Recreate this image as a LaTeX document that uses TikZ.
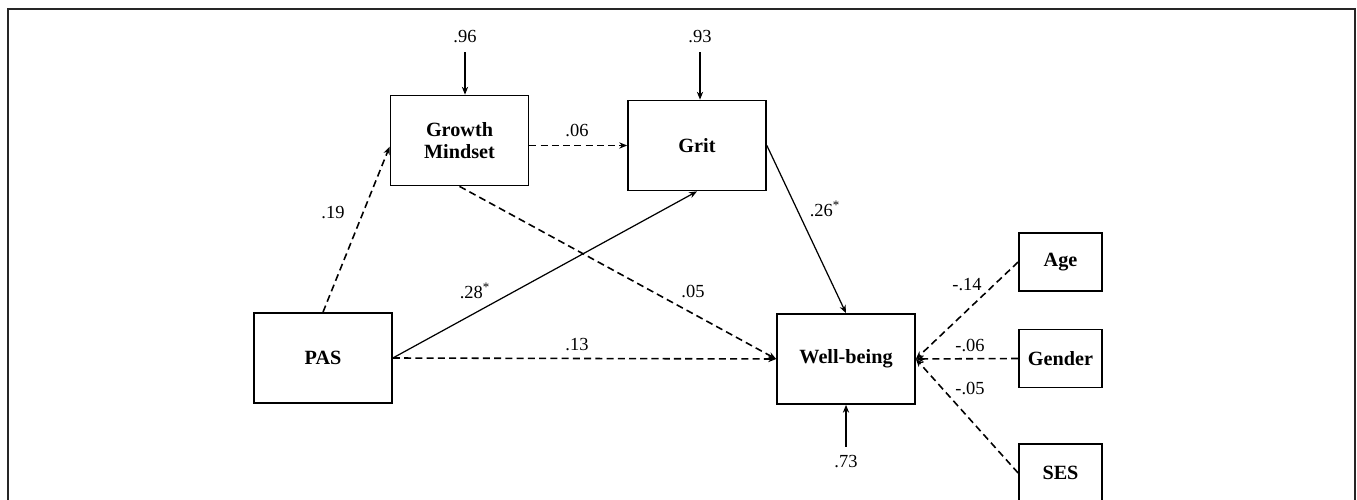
\documentclass[tikz,border=0pt]{standalone}
\usepackage{fontspec}
\setmainfont{Liberation Serif}
\usepackage{tikz}
\usetikzlibrary{arrows.meta, positioning}
\tikzset{>={Stealth[length=4.5pt,width=3.6pt]}}
\tikzset{
  varbox/.style={draw, line width=1pt, minimum width=2.76cm, minimum height=1.8cm,
    inner sep=0pt, align=center, font=\fontsize{11.5}{12.5}\selectfont\bfseries},
  ctrlbox/.style={varbox, minimum width=1.66cm, minimum height=1.16cm},
  coef/.style={font=\fontsize{10.5}{12}\selectfont, inner sep=1pt},
  sigline/.style={->, line width=0.7pt},
  nsline/.style={->, line width=0.9pt, dash pattern=on 4pt off 2.4pt}
}

\begin{document}
\begin{tikzpicture}[x=0.02cm, y=-0.02cm]
        \useasboundingbox (0,0) rectangle (1357,500);
        \clip (0,0) rectangle (1357,500);
        % Outer frame
        \draw[line width=1pt, black!85] (8,9) rectangle (1355,540);

        % Variables
        \node[varbox] (grow) at (459.5,140.5) {Growth\\Mindset};
        \node[varbox] (grit) at (697,145.5) {Grit};
        \node[varbox] (pas) at (323,358) {PAS};
        \node[varbox] (well) at (846,359) {Well-being};

        % Control variables
        \node[ctrlbox] (age) at (1060.5,262) {Age};
        \node[ctrlbox] (gender) at (1060.5,358.5) {Gender};
        \node[ctrlbox] (ses) at (1060.5,473) {SES};

        % Error terms
        \node[coef] (e1) at (465,37) {.96};
        \node[coef] (e2) at (700,37) {.93};
        \node[coef] (e3) at (846,462) {.73};
        \draw[sigline, shorten <=4pt] (e1) -- (e1 |- grow.north);
        \draw[sigline, shorten <=4pt] (e2) -- (e2 |- grit.north);
        \draw[sigline, shorten <=4pt] (e3) -- (e3 |- well.south);

        % Paths
        \draw[nsline] (pas.north) -- (grow.185);
        \draw[nsline] (grow.east |- grit.west) -- (grit.west);
        \draw[nsline] (grow.south) -- (well.west);
        \draw[sigline] (pas.east) -- (grit.south);
        \draw[nsline] (pas.east) -- (well.west);
        \draw[sigline] (grit.east) -- (well.north);
        \draw[nsline] (age.west) -- (well.east);
        \draw[nsline] (gender.west) -- (well.east);
        \draw[nsline] (ses.west) -- (well.east);

        % Coefficients
        \node[coef] (c19) at (333,213) {.19};
        \node[coef] (c06) at (577,130) {.06};
        \node[coef] (c28) at (475,291) {.28\textsuperscript{*}};
        \node[coef] (c05) at (693,291) {.05};
        \node[coef] (c13) at (577,345) {.13};
        \node[coef] (c26) at (825,209) {.26\textsuperscript{*}};
        \node[coef] (c14) at (967,285) {-.14};
        \node[coef] (c06b) at (970,345) {-.06};
        \node[coef] (c05b) at (970,388) {-.05};
    \end{tikzpicture}
\end{document}
